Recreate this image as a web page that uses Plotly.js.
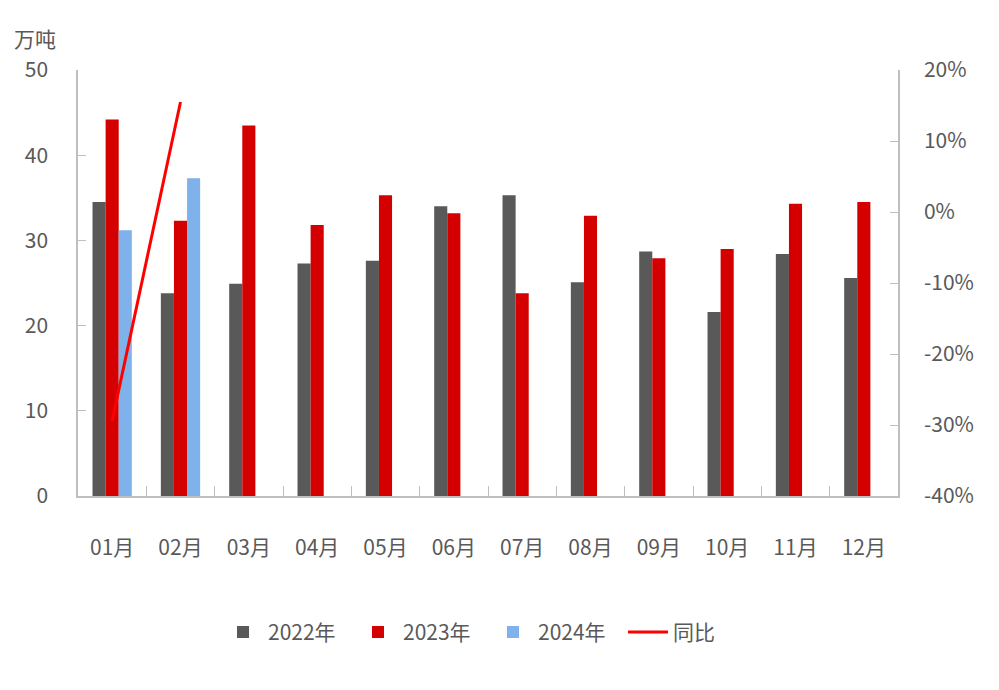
<!DOCTYPE html>
<html>
<head>
<meta charset="utf-8">
<script src="https://cdn.plot.ly/plotly-3.0.1.min.js"></script>
<style>html,body{margin:0;padding:0;background:#fff;}#chart{width:999px;height:690px;}</style>
</head>
<body>
<div id="chart"></div>
<script>
const months = ['01月','02月','03月','04月','05月','06月','07月','08月','09月','10月','11月','12月'];
const v2022 = [34.5, 23.8, 24.9, 27.3, 27.6, 34.0, 35.3, 25.1, 28.7, 21.6, 28.4, 25.6];
const v2023 = [44.2, 32.3, 43.5, 31.8, 35.3, 33.2, 23.8, 32.9, 27.9, 29.0, 34.3, 34.5];
const v2024 = [31.2, 37.3, null, null, null, null, null, null, null, null, null, null];
const yoyMonths = ['01月','02月'];
const yoy = [-0.294, 0.155];
const pctTickVals = [-0.4, -0.3, -0.2, -0.1, 0, 0.1, 0.2];
const pctTickText = ['-40%', '-30%', '-20%', '-10%', '0%', '10%', '20%'];

const font = 'Noto Sans CJK SC, Noto Sans, sans-serif';
const grey = '#595959';
const axisCol = '#bfbfbf';
const fs = 20;

const traces = [
  {type:'bar', name:'2022年', x:months, y:v2022, marker:{color:'#595959'}},
  {type:'bar', name:'2023年', x:months, y:v2023, marker:{color:'#d40000'}},
  {type:'bar', name:'2024年', x:months, y:v2024, marker:{color:'#7fb2ea'}},
  {type:'scatter', mode:'lines', name:'同比', x:yoyMonths, y:yoy, yaxis:'y2',
   line:{color:'#ff0000', width:3}}
];

const layout = {
  width:999, height:690,
  margin:{l:78, r:101, t:70, b:194},
  paper_bgcolor:'#fff', plot_bgcolor:'#fff',
  barmode:'group', bargap:0.425, bargroupgap:0,
  font:{family:font, size:fs, color:grey},
  showlegend:true,
  legend:{orientation:'h', x:0.5, xanchor:'center', y:-0.32, yanchor:'middle',
          font:{family:font, size:fs+1, color:grey}, itemwidth:40, tracegroupgap:0,
          entrywidth:80, entrywidthmode:'pixels'},
  xaxis:{type:'category', showline:true, linecolor:axisCol, linewidth:1.5,
         ticks:'inside', tickson:'boundaries', ticklen:10, tickcolor:axisCol,
         showgrid:false, ticklabelstandoff:32, tickfont:{size:fs+1, color:grey}},
  yaxis:{range:[0,50], dtick:10, showline:true, linecolor:axisCol, linewidth:1.5,
         ticks:'inside', ticklen:8, tickcolor:axisCol, showgrid:false, zeroline:false,
         ticklabelstandoff:24, tickfont:{size:fs+1, color:grey}},
  yaxis2:{overlaying:'y', side:'right', range:[-0.4,0.2], tickmode:'array',
          tickvals:pctTickVals, ticktext:pctTickText,
          showline:true, linecolor:axisCol, linewidth:1.5, ticks:'inside', ticklen:8,
          tickcolor:axisCol, showgrid:false, zeroline:false, ticklabelstandoff:20,
          tickfont:{size:fs+1, color:grey}},
  annotations:[{text:'万吨', xref:'paper', yref:'paper', x:-0.053, y:1.075,
                xanchor:'center', yanchor:'middle', showarrow:false,
                font:{family:font, size:fs+1, color:grey}}]
};

Plotly.newPlot('chart', traces, layout, {displayModeBar:false});
</script>
</body>
</html>
